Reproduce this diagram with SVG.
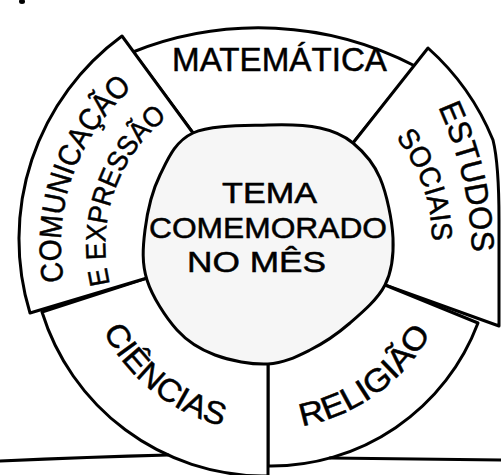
<svg xmlns="http://www.w3.org/2000/svg" width="501" height="475" viewBox="0 0 501 475">
<style>
.seg{fill:#fff;stroke:#000;stroke-width:3;stroke-linejoin:round;stroke-linecap:round}
.ln{fill:none;stroke:#000;stroke-width:3;stroke-linecap:round;stroke-linejoin:round}
.hub{fill:#f6f6f6;stroke:#000;stroke-width:3}
.t{font-family:"Liberation Sans",Arial,sans-serif;fill:#000;stroke:#000;stroke-width:0.5}
</style>
<defs>
<path id="pCom" d="M 64.1 281.2 A 208 208 0 0 1 134 86.8"/>
<path id="pExp" d="M 110 284 A 163 163 0 0 1 166 118.5"/>
<path id="pEst" d="M 438 107 Q 470 177 472 253"/>
<path id="pSoc" d="M 395.5 137.5 A 163 163 0 0 1 432 242"/>
<path id="pCie" d="M 103 331.1 A 187 187 0 0 0 221.9 426"/>
<path id="pRel" d="M 301.9 426 A 184 184 0 0 0 430.6 333.1"/>
</defs>
<rect width="501" height="475" fill="#fff"/>
<ellipse cx="22" cy="1.5" rx="3" ry="2.5" fill="#000"/>

<g id="matematica">
<path class="seg" d="M 193 133 L 133 52 A 339 339 0 0 1 415 66 L 353 143 Z"/>
<text class="t" x="172" y="71" font-size="33" textLength="215" lengthAdjust="spacingAndGlyphs">MATEMÁTICA</text>
</g>

<g id="estudos-sociais">
<path class="seg" d="M 353 143 L 428 48 A 250 250 0 0 1 493 140 C 498 160 499 190 499 220 L 499 326 L 385 285 Z"/>
<text class="t" font-size="32"><textPath href="#pEst" textLength="150" lengthAdjust="spacingAndGlyphs">ESTUDOS</textPath></text>
<text class="t" font-size="29"><textPath href="#pSoc" textLength="112" lengthAdjust="spacingAndGlyphs">SOCIAIS</textPath></text>
</g>

<g id="religiao">
<path class="seg" d="M 385 285 L 478 323 A 221 221 0 0 1 268 466 L 268 364 Z"/>
<text class="t" font-size="32"><textPath href="#pRel" textLength="164" lengthAdjust="spacingAndGlyphs">RELIGIÃO</textPath></text>
</g>

<g id="ciencias">
<path class="seg" d="M 268 364 L 268 476 L 262 476 A 233 233 0 0 1 42 312 L 147 278 Z"/>
<text class="t" font-size="32"><textPath href="#pCie" textLength="157" lengthAdjust="spacingAndGlyphs">CIÊNCIAS</textPath></text>
</g>

<g id="comunicacao-expressao">
<path class="seg" d="M 147 278 L 30 313 A 252 252 0 0 1 122 36 L 193 133 Z"/>
<text class="t" font-size="31"><textPath href="#pCom" textLength="214" lengthAdjust="spacingAndGlyphs">COMUNICAÇÃO</textPath></text>
<text class="t" font-size="28"><textPath href="#pExp" textLength="186" lengthAdjust="spacingAndGlyphs">E EXPRESSÃO</textPath></text>
</g>

<g id="tema-central">
<path class="hub" d="M 193 133 C 211 124.7 246.8 125.8 268 125 C 289.2 124.2 305.8 125 320 128 C 334.2 131 343 134.7 353 143 C 363 151.3 373.3 162.2 380 178 C 386.7 193.8 392.2 220.2 393 238 C 393.8 255.8 392.2 270.8 385 285 C 377.8 299.2 362.5 312.2 350 323 C 337.5 333.8 323.7 343.2 310 350 C 296.3 356.8 283.8 363.2 268 364 C 252.2 364.8 230.2 360.7 215 355 C 199.8 349.3 188.3 342.5 177 330 C 165.7 317.5 152.3 296.7 147 280 C 141.7 263.3 142.8 247.5 145 230 C 147.2 212.5 152 191.2 160 175 C 168 158.8 175 141.3 193 133 Z"/>
<text class="t" x="222" y="203" font-size="29" textLength="95" lengthAdjust="spacingAndGlyphs">TEMA</text>
<text class="t" x="149" y="238" font-size="29" textLength="238" lengthAdjust="spacingAndGlyphs">COMEMORADO</text>
<text class="t" x="187" y="272" font-size="29" textLength="139" lengthAdjust="spacingAndGlyphs">NO MÊS</text>
</g>

<g id="ground">
<path class="ln" d="M 0 461 Q 90 457 168 455"/>
<path class="ln" d="M 330 458 L 501 460"/>
</g>
</svg>
